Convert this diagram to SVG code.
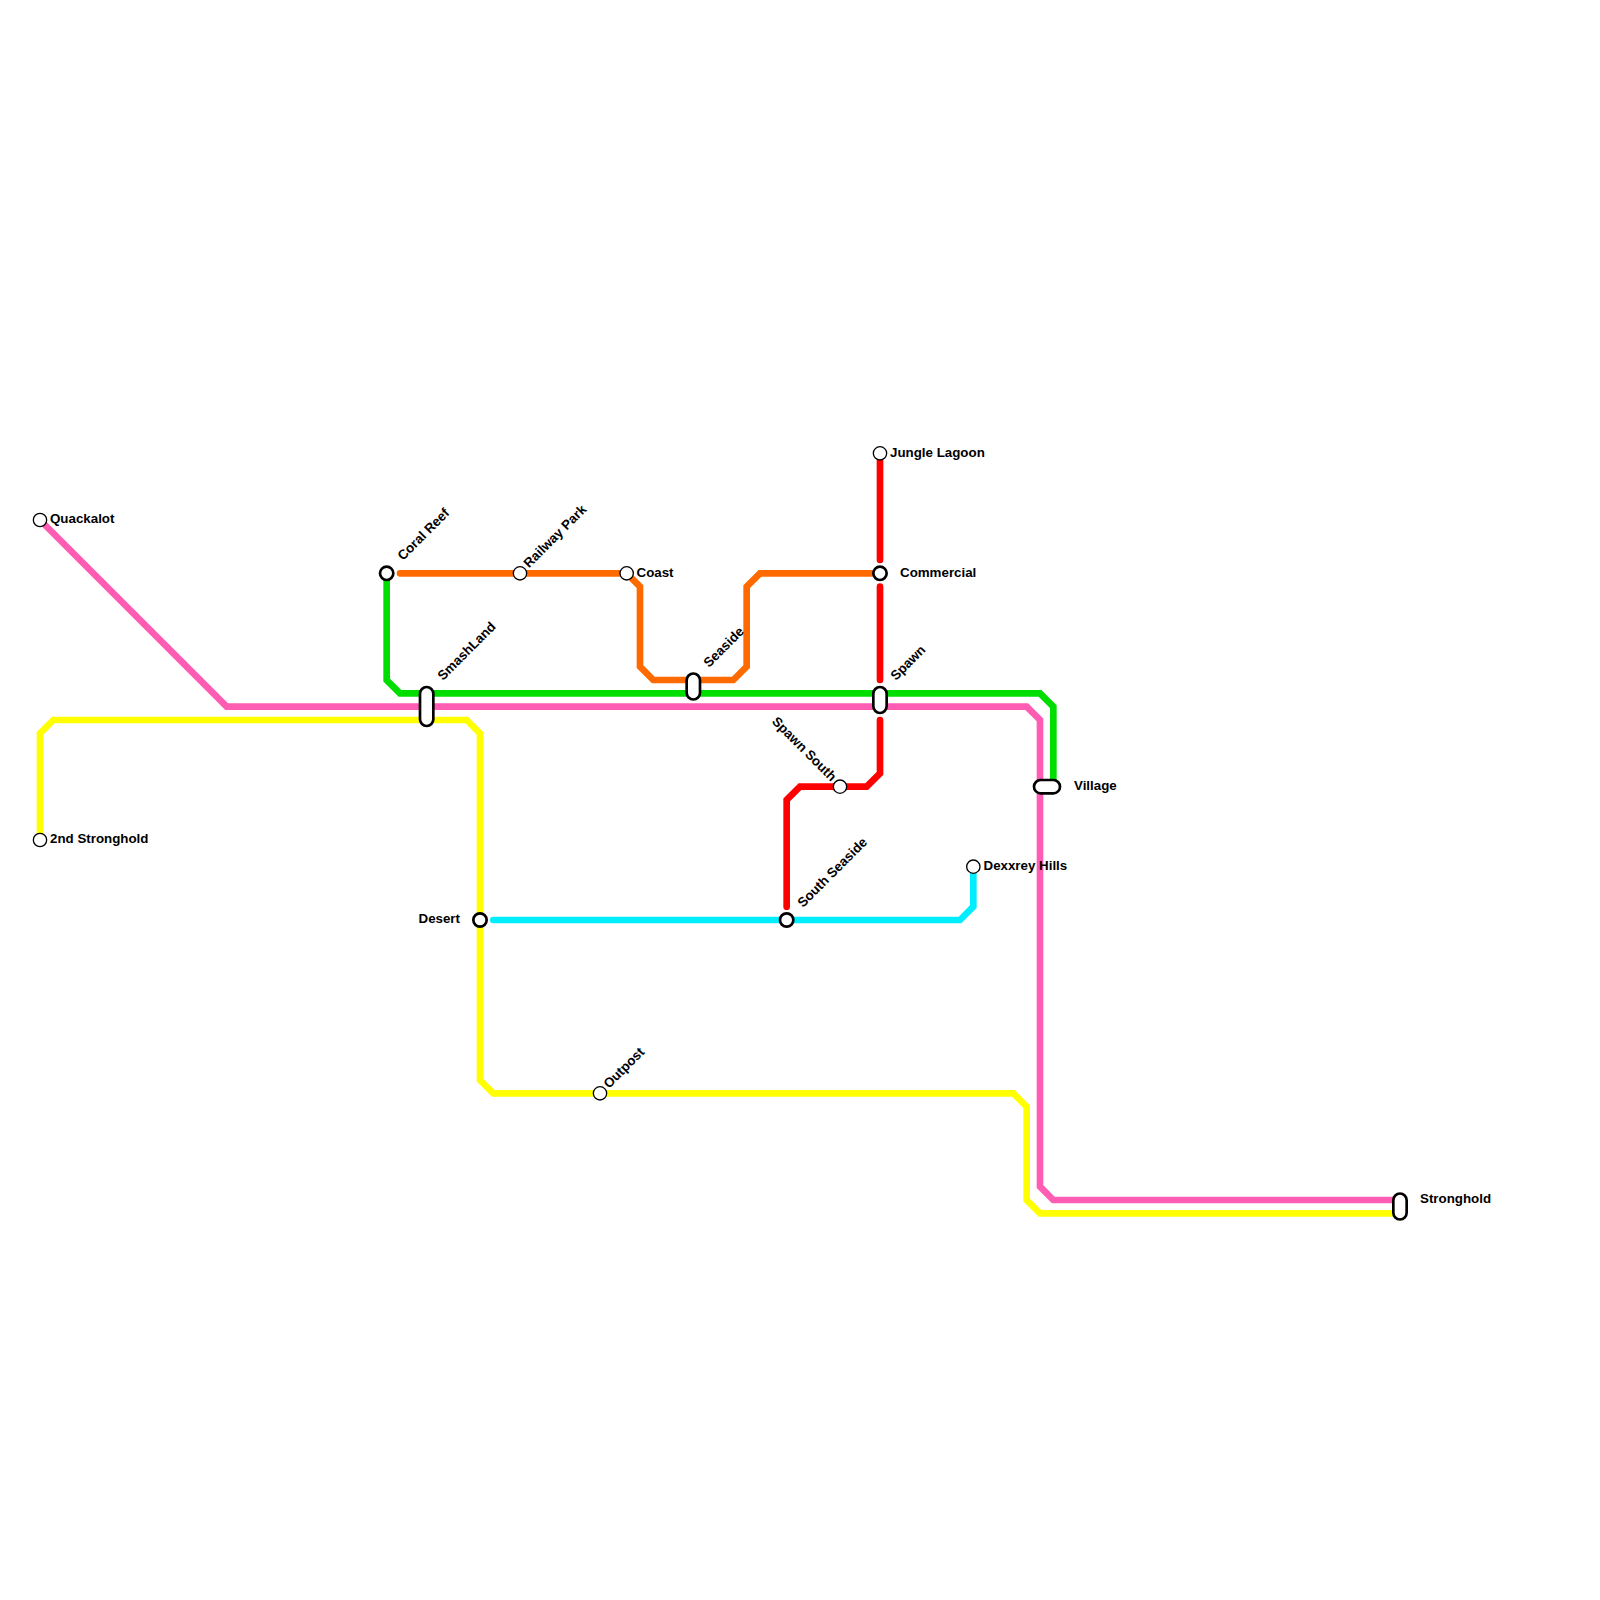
<svg xmlns="http://www.w3.org/2000/svg" width="1600" height="1600" viewBox="0 0 1600 1600">
<style>
.l{fill:none;stroke-width:6.67;stroke-linejoin:miter;stroke-linecap:round}
.s{fill:#fff;stroke:#000;stroke-width:1.33}
.i{fill:#fff;stroke:#000;stroke-width:2.67}
text{font-family:"Liberation Sans",Arial,sans-serif;font-weight:700;font-size:13.33px;fill:#000}
</style>
<rect width="1600" height="1600" fill="#fff"/>
<g id="connectors">
<path class="l" stroke="#ffff00" d="M40 840V733.33L53.33 720H466.67L480 733.33V1080L493.33 1093.33H1013.33L1026.67 1106.67V1200L1040 1213.33H1400"/>
<path class="l" stroke="#ff5cb3" d="M40 520L226.67 706.67H1026.67L1040 720V1186.67L1053.33 1200H1400"/>
<path class="l" stroke="#00dd00" d="M386.67 573.33V680L400 693.33H1040L1053.33 706.67V786.67"/>
<path class="l" stroke="#ff6a00" d="M400 573.33H626.67L640 586.67V666.67L653.33 680H733.33L746.67 666.67V586.67L760 573.33H880"/>
<path class="l" stroke="#ff0000" d="M880 453.33V560M880 586.67V680M880 720V773.33L866.67 786.67H800L786.67 800V906.67"/>
<path class="l" stroke="#00eeff" d="M493.33 920H960L973.33 906.67V866.67"/>
</g>
<g id="n-quackalot"><circle class="s" cx="40" cy="520" r="6.67"/><text x="50" y="522.6">Quackalot</text></g>
<g id="n-2nd-stronghold"><circle class="s" cx="40" cy="840" r="6.67"/><text x="50" y="842.6">2nd Stronghold</text></g>
<g id="n-coral-reef"><circle class="i" cx="386.67" cy="573.33" r="6.67"/><text transform="translate(403 561) rotate(-45)">Coral Reef</text></g>
<g id="n-railway-park"><circle class="s" cx="520" cy="573.33" r="6.67"/><text transform="translate(529 568.5) rotate(-45)">Railway Park</text></g>
<g id="n-coast"><circle class="s" cx="626.67" cy="573.33" r="6.67"/><text x="636.5" y="576.6">Coast</text></g>
<g id="n-smashland"><rect class="i" x="420" y="687" width="13.33" height="39" rx="6.67"/><text transform="translate(443 681) rotate(-45)">SmashLand</text></g>
<g id="n-seaside"><rect class="i" x="686.67" y="673.5" width="13.33" height="26" rx="6.67"/><text transform="translate(709 668) rotate(-45)">Seaside</text></g>
<g id="n-jungle-lagoon"><circle class="s" cx="880" cy="453.33" r="6.67"/><text x="890" y="456.6">Jungle Lagoon</text></g>
<g id="n-commercial"><circle class="i" cx="880" cy="573.33" r="6.67"/><text x="900" y="576.6">Commercial</text></g>
<g id="n-spawn"><rect class="i" x="873.33" y="687" width="13.33" height="26" rx="6.67"/><text transform="translate(896 681) rotate(-45)">Spawn</text></g>
<g id="n-spawn-south"><circle class="s" cx="840" cy="786.67" r="6.67"/><text transform="translate(831 782) rotate(45)" text-anchor="end">Spawn South</text></g>
<g id="n-village"><rect class="i" x="1034" y="780" width="26" height="13.33" rx="6.67"/><text x="1074" y="789.6">Village</text></g>
<g id="n-dexxrey-hills"><circle class="s" cx="973.33" cy="866.67" r="6.67"/><text x="983.5" y="869.6">Dexxrey Hills</text></g>
<g id="n-south-seaside"><circle class="i" cx="786.67" cy="920" r="6.67"/><text transform="translate(803 908) rotate(-45)">South Seaside</text></g>
<g id="n-desert"><circle class="i" cx="480" cy="920" r="6.67"/><text x="460" y="923" text-anchor="end">Desert</text></g>
<g id="n-outpost"><circle class="s" cx="600" cy="1093.33" r="6.67"/><text transform="translate(609 1089) rotate(-45)">Outpost</text></g>
<g id="n-stronghold"><rect class="i" x="1393.33" y="1193.5" width="13.33" height="26" rx="6.67"/><text x="1420" y="1203">Stronghold</text></g>
</svg>
